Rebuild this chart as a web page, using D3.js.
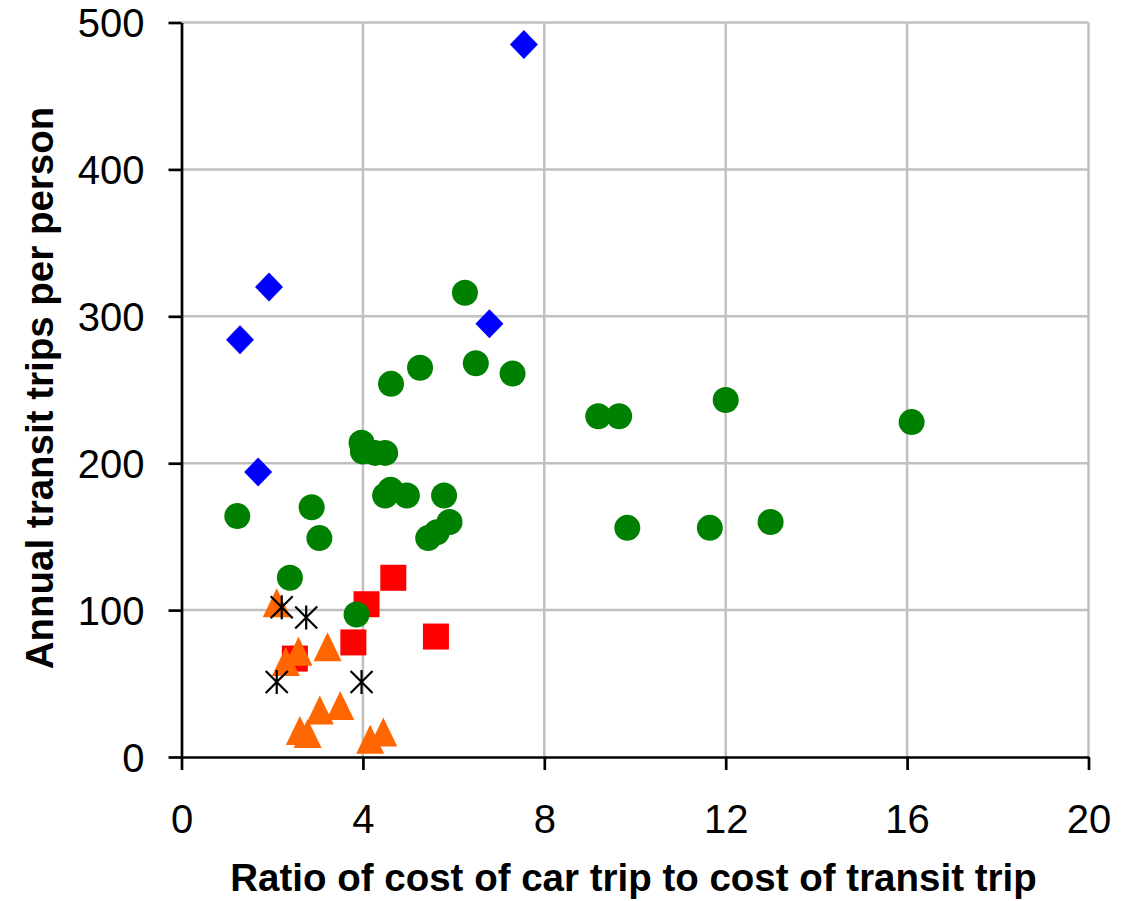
<!DOCTYPE html>
<html>
    <head>
        <meta charset="utf-8">
        <title>Transit trips vs cost ratio</title>
        <script src="https://d3js.org/d3.v7.min.js"></script>
        <style>
            body { margin: 0; background: #fff; }
            svg { display: block; background-color: #ffffff; font-family: "Liberation Sans", Arial, sans-serif; }
            .grid line { stroke: #c0c0c0; stroke-width: 2.5px; }
            .axis path, .axis line { stroke: #000; stroke-width: 2.7px; }
            .axis text { font-family: "Liberation Sans", Arial, sans-serif; font-size: 40px; fill: #000; }
            .title { font-size: 38.5px; font-weight: bold; fill: #000; }
        </style>
    </head>
    <body>
        <svg width="1123" height="901"></svg>
        <script>
            // series data [ratio, trips]
            var blueData = [[1.29, 284], [1.93, 320], [1.69, 194], [6.79, 295], [7.55, 485]];
            var greenData = [
                [1.23, 164], [2.87, 170], [3.04, 149], [2.39, 122], [3.86, 97],
                [3.97, 214], [4.00, 208], [4.27, 207], [4.49, 207], [4.62, 254],
                [4.49, 178], [4.61, 182], [4.97, 178], [5.79, 178], [5.91, 160],
                [5.63, 153], [5.44, 149], [5.26, 265], [6.25, 316], [6.49, 268],
                [7.30, 261], [9.19, 232], [9.65, 232], [12.0, 243], [16.1, 228],
                [9.83, 156], [11.65, 156], [12.99, 160]
            ];
            var redData = [[4.67, 122], [4.08, 104], [3.79, 78], [5.61, 82], [2.50, 67]];
            var orangeData = [
                [2.10, 105], [2.58, 72], [2.30, 65], [3.22, 75], [3.50, 35],
                [3.05, 32], [2.61, 18], [2.78, 16], [4.16, 12], [4.45, 17]
            ];
            var blackData = [[2.21, 102], [2.75, 95], [2.10, 51], [3.97, 51]];

            var xTicks = [0, 4, 8, 12, 16, 20];
            var yTicks = [0, 100, 200, 300, 400, 500];
            var xTitle = "Ratio of cost of car trip to cost of transit trip";
            var yTitle = "Annual transit trips per person";

            var svg = d3.select("svg");
            var plotLeft = 181.5, plotRight = 1088.5, plotTop = 22.5, plotBottom = 757;

            var x = d3.scaleLinear().domain([0, 20]).range([plotLeft, plotRight]);
            var y = d3.scaleLinear().domain([0, 500]).range([plotBottom, plotTop]);

            // gridlines
            var grid = svg.append("g").attr("class", "grid");
            grid.selectAll(".gx").data(xTicks.slice(1)).enter().append("line")
                .attr("x1", function(d){ return x(d); }).attr("x2", function(d){ return x(d); })
                .attr("y1", plotTop).attr("y2", plotBottom);
            grid.selectAll(".gy").data(yTicks.slice(1)).enter().append("line")
                .attr("x1", plotLeft).attr("x2", plotRight)
                .attr("y1", function(d){ return y(d); }).attr("y2", function(d){ return y(d); });

            // axes
            var xAxis = svg.append("g").attr("class", "axis")
                .attr("transform", "translate(0," + plotBottom + ")")
                .call(d3.axisBottom(x).tickValues(xTicks).tickSize(13).tickSizeOuter(0).tickPadding(34));
            var yAxis = svg.append("g").attr("class", "axis")
                .attr("transform", "translate(" + plotLeft + ",0)")
                .call(d3.axisLeft(y).tickValues(yTicks).tickSize(13).tickSizeOuter(0).tickPadding(24));
            xAxis.selectAll("text").attr("dy", null).attr("y", 76);
            yAxis.selectAll("text").attr("dy", "0.36em");

            var markers = svg.append("g");

            // red squares
            markers.append("g").selectAll("rect").data(redData).enter().append("rect")
                .attr("x", function(d){ return x(d[0]) - 13; })
                .attr("y", function(d){ return y(d[1]) - 13; })
                .attr("width", 26).attr("height", 26)
                .attr("fill", "#ff0000");

            // green circles
            markers.append("g").selectAll("circle").data(greenData).enter().append("circle")
                .attr("cx", function(d){ return x(d[0]); })
                .attr("cy", function(d){ return y(d[1]); })
                .attr("r", 13)
                .attr("fill", "#008000");

            // orange triangles
            markers.append("g").selectAll("path").data(orangeData).enter().append("path")
                .attr("d", function(d){
                    var cx = x(d[0]), cy = y(d[1]);
                    return "M" + cx + "," + (cy - 14.5) + "L" + (cx + 14) + "," + (cy + 14.5) + "L" + (cx - 14) + "," + (cy + 14.5) + "Z";
                })
                .attr("fill", "#ff6600");

            // black asterisks
            markers.append("g").selectAll("path").data(blackData).enter().append("path")
                .attr("d", function(d){
                    var cx = x(d[0]), cy = y(d[1]);
                    return "M" + cx + "," + (cy - 12) + "L" + cx + "," + (cy + 12) +
                        "M" + (cx - 11) + "," + (cy - 11) + "L" + (cx + 11) + "," + (cy + 11) +
                        "M" + (cx - 11) + "," + (cy + 11) + "L" + (cx + 11) + "," + (cy - 11);
                })
                .attr("fill", "none")
                .attr("stroke", "#000")
                .attr("stroke-width", 2.2);

            // blue diamonds
            markers.append("g").selectAll("path").data(blueData).enter().append("path")
                .attr("d", function(d){
                    var cx = x(d[0]), cy = y(d[1]);
                    return "M" + cx + "," + (cy - 14.5) + "L" + (cx + 14) + "," + cy + "L" + cx + "," + (cy + 14.5) + "L" + (cx - 14) + "," + cy + "Z";
                })
                .attr("fill", "#0000ff");

            // axis titles
            svg.append("text").attr("class", "title")
                .attr("x", 633.5).attr("y", 891)
                .attr("text-anchor", "middle")
                .text(xTitle);
            svg.append("text").attr("class", "title")
                .attr("transform", "translate(53,388) rotate(-90)")
                .attr("text-anchor", "middle")
                .text(yTitle);
        </script>
    </body>
</html>
